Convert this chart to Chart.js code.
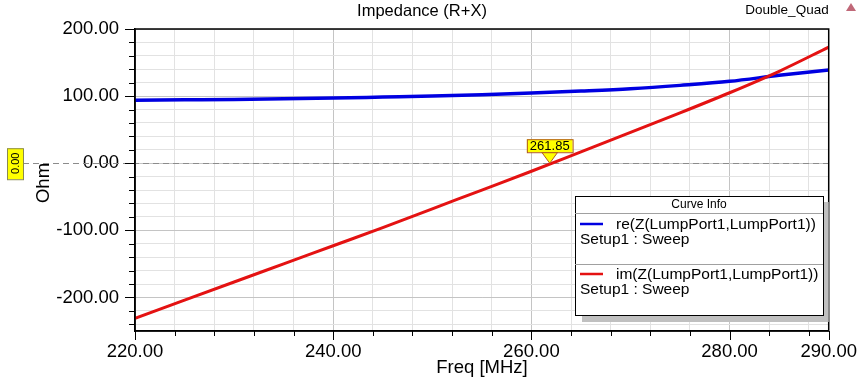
<!DOCTYPE html>
<html>
<head>
<meta charset="utf-8">
<script src="https://cdn.jsdelivr.net/npm/chart.js@4.4.1/dist/chart.umd.min.js"></script>
<style>
html, body { margin: 0; padding: 0; background: #fff; }
canvas { display: block; }
</style>
</head>
<body>
<canvas id="imp" width="867" height="381"></canvas>
<script>
// values
const freqs = [220, 225, 230, 235, 240, 245, 250, 255, 260, 265, 270, 275, 280, 285, 290];
const reZ = [94, 94.5, 95, 96, 97, 98.5, 100, 102, 104.5, 107.5, 111, 116, 122, 131, 139];
const imZ = [-231, -204, -177, -150, -123, -96, -68, -40, -12, 17, 46, 75, 105, 137, 173];

const xTickValues = [220, 224, 228, 232, 236, 240, 244, 248, 252, 256, 260, 264, 268, 272, 276, 280, 284, 288, 290];
const xLabels = [220, 240, 260, 280, 290];
const yTickValues = [-240, -220, -200, -180, -160, -140, -120, -100, -80, -60, -40, -20, 0, 20, 40, 60, 80, 100, 120, 140, 160, 180, 200];
const yLabels = [-200, -100, 0, 100, 200];

const zeroLevel = 0;
const crossFreq = 261.85;

const FONT = '"Liberation Sans", Arial, sans-serif';

const extras = {
    id: 'extras',
    beforeDatasetsDraw(chart) {
        const { ctx, chartArea: a, scales: { y } } = chart;
        const y0 = Math.round(y.getPixelForValue(zeroLevel)) + 0.5;
        ctx.save();
        ctx.strokeStyle = '#8c8c8c';
        ctx.lineWidth = 1;
        ctx.setLineDash([6, 4]);
        ctx.beginPath();
        ctx.moveTo(23, y0);
        ctx.lineTo(a.right, y0);
        ctx.stroke();
        ctx.restore();
    },
    afterDatasetsDraw(chart) {
        const { ctx, chartArea: a, scales: { x, y } } = chart;
        ctx.save();

        // frame + tick marks
        ctx.strokeStyle = '#000';
        ctx.lineWidth = 1.5;
        ctx.strokeRect(a.left, a.top, a.right - a.left, a.bottom - a.top);
        ctx.lineWidth = 1;
        ctx.beginPath();
        yTickValues.forEach(v => {
            const py = Math.round(y.getPixelForValue(v)) + 0.5;
            const len = yLabels.includes(v) ? 10 : 6;
            ctx.moveTo(a.left - len, py);
            ctx.lineTo(a.left, py);
        });
        xTickValues.forEach(v => {
            const px = Math.round(x.getPixelForValue(v)) + 0.5;
            const len = xLabels.includes(v) ? 9 : 5;
            ctx.moveTo(px, a.bottom);
            ctx.lineTo(px, a.bottom + len);
        });
        ctx.stroke();

        // marker on zero crossing
        const px = x.getPixelForValue(crossFreq);
        const py = y.getPixelForValue(zeroLevel);
        ctx.font = '13px ' + FONT;
        const txt = crossFreq.toFixed(2);
        const w = ctx.measureText(txt).width + 6;
        const bb = py - 11;
        ctx.fillStyle = '#ffff00';
        ctx.strokeStyle = '#b05a20';
        ctx.beginPath();
        ctx.moveTo(px - 8, bb);
        ctx.lineTo(px + 8, bb);
        ctx.lineTo(px, py);
        ctx.closePath();
        ctx.fill();
        ctx.stroke();
        ctx.fillRect(px - w / 2, bb - 13, w, 13);
        ctx.strokeRect(px - w / 2 + 0.5, bb - 13 + 0.5, w, 13);
        ctx.fillStyle = '#000';
        ctx.textAlign = 'center';
        ctx.textBaseline = 'middle';
        ctx.fillText(txt, px, bb - 6);

        // y marker box on the left
        ctx.fillStyle = '#ffff00';
        ctx.fillRect(7, py - 15, 16, 31);
        ctx.strokeStyle = '#8a8a50';
        ctx.strokeRect(7.5, py - 14.5, 16, 31);
        ctx.translate(15, py);
        ctx.rotate(-Math.PI / 2);
        ctx.fillStyle = '#000';
        ctx.font = '11px ' + FONT;
        ctx.fillText(zeroLevel.toFixed(2), 0, 1);
        ctx.restore();

        // curve info box
        ctx.save();
        const lx = 575, ly = 196, lw = 248, lh = 119;
        ctx.fillStyle = '#c0c0c0';
        ctx.fillRect(lx + 7, ly + 6, Math.min(lw, a.right - lx - 7), lh + 1);
        ctx.fillStyle = '#fff';
        ctx.fillRect(lx, ly, lw, lh);
        ctx.strokeStyle = '#000';
        ctx.lineWidth = 1;
        ctx.strokeRect(lx + 0.5, ly + 0.5, lw, lh);
        ctx.fillStyle = '#000';
        ctx.font = '12px ' + FONT;
        ctx.textAlign = 'center';
        ctx.textBaseline = 'middle';
        ctx.fillText('Curve Info', lx + lw / 2, ly + 9);
        ctx.strokeStyle = '#a0a0a0';
        ctx.beginPath();
        ctx.moveTo(lx, ly + 17.5);
        ctx.lineTo(lx + lw, ly + 17.5);
        ctx.moveTo(lx, ly + 68.5);
        ctx.lineTo(lx + lw, ly + 68.5);
        ctx.stroke();
        ctx.textAlign = 'left';
        ctx.font = '15.5px ' + FONT;
        chart.data.datasets.forEach((ds, i) => {
            const ey = ly + 28 + i * 50;
            ctx.strokeStyle = ds.borderColor;
            ctx.lineWidth = 2.5;
            ctx.beginPath();
            ctx.moveTo(lx + 5, ey);
            ctx.lineTo(lx + 28, ey);
            ctx.stroke();
            ctx.fillStyle = '#000';
            ctx.fillText(ds.label, lx + 41, ey + 1);
            ctx.fillText('Setup1 : Sweep', lx + 5, ey + 16);
        });
        ctx.restore();
    },
    afterDraw(chart) {
        const { ctx } = chart;
        ctx.save();
        ctx.fillStyle = '#000';
        ctx.textAlign = 'center';
        ctx.textBaseline = 'middle';
        ctx.font = '16.5px ' + FONT;
        ctx.fillText('Impedance (R+X)', 422, 11);
        ctx.font = '13.5px ' + FONT;
        ctx.fillText('Double_Quad', 787, 10);
        ctx.font = '18.5px ' + FONT;
        ctx.fillText('Freq [MHz]', 482, 368);
        ctx.translate(44, 183);
        ctx.rotate(-Math.PI / 2);
        ctx.fillText('Ohm', 0, 0);
        ctx.restore();
        // small report icon
        ctx.save();
        ctx.fillStyle = '#c06878';
        ctx.beginPath();
        ctx.moveTo(851, 3);
        ctx.lineTo(856, 11);
        ctx.lineTo(846, 11);
        ctx.closePath();
        ctx.fill();
        ctx.restore();
    }
};

const ctx = document.getElementById('imp').getContext('2d');
const impChart = new Chart(ctx, {
    type: 'line',
    data: {
        datasets: [
            {
                label: 're(Z(LumpPort1,LumpPort1))',
                data: freqs.map((f, i) => ({ x: f, y: reZ[i] })),
                borderColor: 'rgb(0, 0, 225)',
                borderWidth: 3.5,
                pointRadius: 0,
                cubicInterpolationMode: 'monotone',
                order: 2
            },
            {
                label: 'im(Z(LumpPort1,LumpPort1))',
                data: freqs.map((f, i) => ({ x: f, y: imZ[i] })),
                borderColor: 'rgb(228, 18, 18)',
                borderWidth: 3,
                pointRadius: 0,
                cubicInterpolationMode: 'monotone',
                order: 1
            }
        ]
    },
    options: {
        responsive: false,
        animation: false,
        devicePixelRatio: 1,
        layout: { padding: { top: 29, right: 38, left: 0, bottom: 0 } },
        plugins: {
            legend: { display: false },
            tooltip: { enabled: false }
        },
        scales: {
            x: {
                type: 'linear',
                min: 220,
                max: 290,
                afterBuildTicks: scale => { scale.ticks = xTickValues.map(v => ({ value: v })); },
                afterFit: scale => { scale.height = 50; },
                grid: {
                    drawTicks: false,
                    color: c => (c.tick && xLabels.includes(c.tick.value)) ? '#c4c4c4' : '#e2e2e2'
                },
                border: { display: true, color: '#000', width: 1.5 },
                ticks: {
                    autoSkip: false,
                    maxRotation: 0,
                    padding: 10,
                    color: '#000',
                    font: { family: FONT, size: 18.5 },
                    callback: v => xLabels.includes(v) ? v.toFixed(2) : ''
                }
            },
            y: {
                type: 'linear',
                min: -250,
                max: 200,
                afterBuildTicks: scale => { scale.ticks = yTickValues.map(v => ({ value: v })); },
                afterFit: scale => { scale.width = 135; },
                grid: {
                    drawTicks: false,
                    color: c => (c.tick && yLabels.includes(c.tick.value)) ? '#c4c4c4' : '#e2e2e2'
                },
                border: { display: true, color: '#000', width: 1.5 },
                ticks: {
                    autoSkip: false,
                    padding: 16,
                    color: '#000',
                    font: { family: FONT, size: 18.5 },
                    callback: v => yLabels.includes(v) ? v.toFixed(2) : ''
                }
            }
        }
    },
    plugins: [extras]
});
</script>
</body>
</html>
